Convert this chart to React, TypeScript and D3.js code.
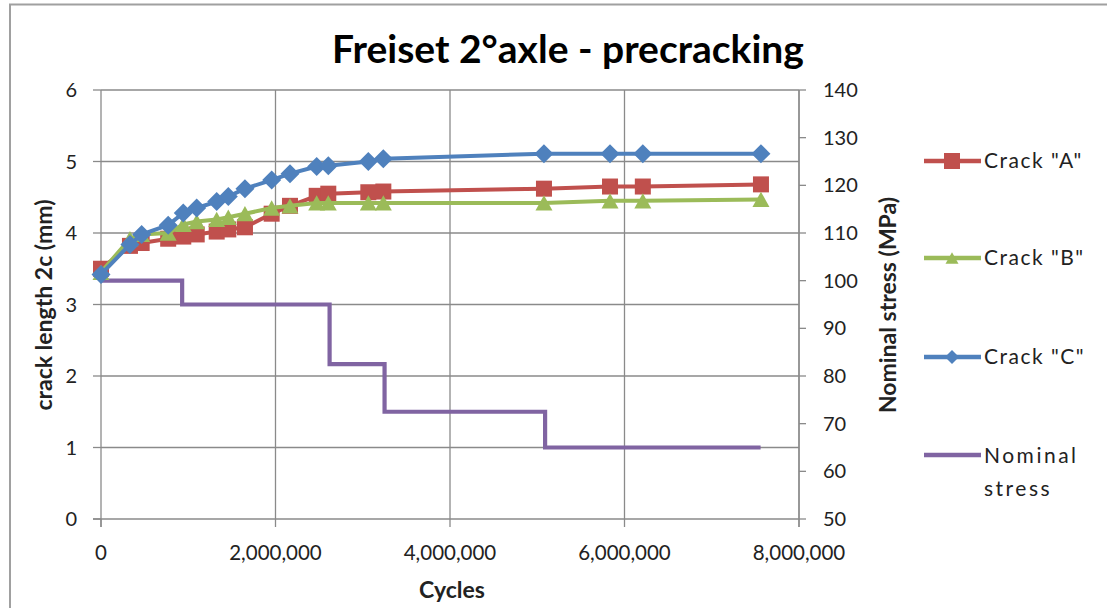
import React from "react";
import * as d3 from "d3";

const cycles = [0, 332000, 466000, 770000, 943000, 1097000, 1326000, 1459000, 1650000, 1956000, 2166000, 2472000, 2605000, 3064000, 3236000, 5077000, 5834000, 6210000, 7564000];
const crackA = [3.5, 3.82, 3.86, 3.92, 3.95, 3.98, 4.02, 4.05, 4.08, 4.27, 4.38, 4.52, 4.55, 4.57, 4.58, 4.62, 4.65, 4.65, 4.68];
const crackB = [3.45, 3.92, 3.98, 4.0, 4.12, 4.16, 4.19, 4.22, 4.27, 4.35, 4.38, 4.42, 4.42, 4.42, 4.42, 4.42, 4.45, 4.45, 4.47];
const crackC = [3.42, 3.84, 3.98, 4.11, 4.28, 4.35, 4.44, 4.51, 4.62, 4.74, 4.83, 4.93, 4.94, 5.0, 5.04, 5.11, 5.11, 5.11, 5.11];
const stressCycles = [0, 930000, 2620000, 3250000, 5090000, 7560000];
const stressValues = [100, 95, 82.5, 72.5, 65, 65];

const xTicks = [0, 2000000, 4000000, 6000000, 8000000];
const leftTicks = [0, 1, 2, 3, 4, 5, 6];
const rightTicks = [50, 60, 70, 80, 90, 100, 110, 120, 130, 140];

const seriesNames = ['Crack "A"', 'Crack "B"', 'Crack "C"', "Nominal stress"];
const colors = ["#C0504D", "#9BBB59", "#4F81BD", "#8064A2"];

const FONT = "Lato, 'Open Sans', sans-serif";

function Marker({ kind, x, y, color, s }: { kind: string; x: number; y: number; color: string; s: number }) {
  if (kind === "square") {
    return <rect x={x - s / 2} y={y - s / 2} width={s} height={s} fill={color} />;
  }
  if (kind === "triangle") {
    const h = s * 0.9;
    return <path d={`M${x},${y - h / 2} L${x + s / 2},${y + h / 2} L${x - s / 2},${y + h / 2} Z`} fill={color} />;
  }
  return <path d={`M${x},${y - s / 2} L${x + s / 2},${y} L${x},${y + s / 2} L${x - s / 2},${y} Z`} fill={color} />;
}

export default function App() {
  const W = 1107, H = 608;
  const x = d3.scaleLinear().domain([0, 8000000]).range([101, 799]);
  const yL = d3.scaleLinear().domain([0, 6]).range([519, 90]);
  const yR = d3.scaleLinear().domain([50, 140]).range([519, 90]);
  const fmt = d3.format(",");

  const crackLine = d3.line<[number, number]>().x((d) => x(d[0])).y((d) => yL(d[1]));
  const stressLine = d3
    .line<[number, number]>()
    .x((d) => x(d[0]))
    .y((d) => yR(d[1]))
    .curve(d3.curveStepAfter);

  const cracks = [crackA, crackB, crackC];
  const kinds = ["square", "triangle", "diamond"];
  const sizes = [16, 17, 19];
  const grid = "#8a8a8a";

  const legendY = [161, 258, 357, 455];

  return (
    <div style={{ position: "fixed", left: 0, top: 0 }}>
      <svg width={W} height={H} style={{ display: "block", background: "#fff" }}>
        <rect x={10} y={4.5} width={W + 10} height={H + 10} fill="#fff" stroke="#a0a0a0" strokeWidth={2} />
        <text x={568} y={63} textAnchor="middle" fontFamily={FONT} fontWeight="bold" fontSize={39} fill="#000">
          Freiset 2°axle - precracking
        </text>

        {/* gridlines */}
        {leftTicks.slice(1).map((t) => (
          <line key={"hg" + t} x1={101} x2={799} y1={yL(t)} y2={yL(t)} stroke={grid} strokeWidth={1.3} />
        ))}
        {xTicks.slice(1).map((t) => (
          <line key={"vg" + t} x1={x(t)} x2={x(t)} y1={90} y2={519} stroke={grid} strokeWidth={1.3} />
        ))}
        {/* axes */}
        <line x1={101} x2={101} y1={90} y2={527} stroke={grid} strokeWidth={1.3} />
        <line x1={93} x2={799} y1={519} y2={519} stroke={grid} strokeWidth={1.3} />
        <line x1={799} x2={799} y1={90} y2={527} stroke={grid} strokeWidth={1.3} />
        {leftTicks.map((t) => (
          <line key={"lt" + t} x1={93} x2={101} y1={yL(t)} y2={yL(t)} stroke={grid} strokeWidth={1.3} />
        ))}
        {rightTicks.map((t) => (
          <line key={"rt" + t} x1={799} x2={806} y1={yR(t)} y2={yR(t)} stroke={grid} strokeWidth={1.3} />
        ))}
        {xTicks.map((t) => (
          <line key={"xt" + t} x1={x(t)} x2={x(t)} y1={519} y2={527} stroke={grid} strokeWidth={1.3} />
        ))}

        {/* tick labels */}
        {leftTicks.map((t) => (
          <text key={"ll" + t} x={77} y={yL(t) + 7} textAnchor="end" fontFamily={FONT} fontSize={20} fill="#222">
            {t}
          </text>
        ))}
        {rightTicks.map((t) => (
          <text key={"rl" + t} x={823} y={yR(t) + 7} textAnchor="start" fontFamily={FONT} fontSize={20} fill="#222">
            {t}
          </text>
        ))}
        {xTicks.map((t) => (
          <text key={"xl" + t} x={x(t)} y={560} textAnchor="middle" fontFamily={FONT} fontSize={20.5} fill="#222">
            {fmt(t)}
          </text>
        ))}

        {/* axis titles */}
        <text x={452} y={598} textAnchor="middle" fontFamily={FONT} fontWeight="bold" fontSize={23} fill="#222">
          Cycles
        </text>
        <text
          transform="translate(52,305) rotate(-90)"
          textAnchor="middle"
          fontFamily={FONT}
          fontWeight="bold"
          fontSize={23}
          fill="#222"
        >
          crack length 2c (mm)
        </text>
        <text
          transform="translate(896,305) rotate(-90)"
          textAnchor="middle"
          fontFamily={FONT}
          fontWeight="bold"
          fontSize={23}
          fill="#222"
        >
          Nominal stress (MPa)
        </text>

        {/* stress */}
        <path
          d={stressLine(stressCycles.map((c, i) => [c, stressValues[i]] as [number, number])) || ""}
          fill="none"
          stroke={colors[3]}
          strokeWidth={4.2}
        />

        {cracks.map((vals, si) => (
          <g key={"s" + si}>
            <path
              d={crackLine(cycles.map((c, i) => [c, vals[i]] as [number, number])) || ""}
              fill="none"
              stroke={colors[si]}
              strokeWidth={4}
              strokeLinejoin="round"
            />
            {cycles.map((c, i) => (
              <Marker key={i} kind={kinds[si]} x={x(c)} y={yL(vals[i])} color={colors[si]} s={sizes[si]} />
            ))}
          </g>
        ))}

        {/* legend */}
        {seriesNames.map((name, i) => (
          <g key={"lg" + i}>
            <line x1={924} x2={981} y1={legendY[i]} y2={legendY[i]} stroke={colors[i]} strokeWidth={4.5} />
            {i < 3 && <Marker kind={kinds[i]} x={952} y={legendY[i]} color={colors[i]} s={[16, 13, 14][i]} />}
            {i < 3 ? (
              <text x={984} y={legendY[i] + 7} fontFamily={FONT} fontSize={21} letterSpacing={1.5} fill="#222">
                {name}
              </text>
            ) : (
              <text x={984} y={legendY[i] + 8} fontFamily={FONT} fontSize={21} letterSpacing={2.5} fill="#222">
                <tspan x={984}>Nominal</tspan>
                <tspan x={984} dy={33}>stress</tspan>
              </text>
            )}
          </g>
        ))}
      </svg>
    </div>
  );
}
